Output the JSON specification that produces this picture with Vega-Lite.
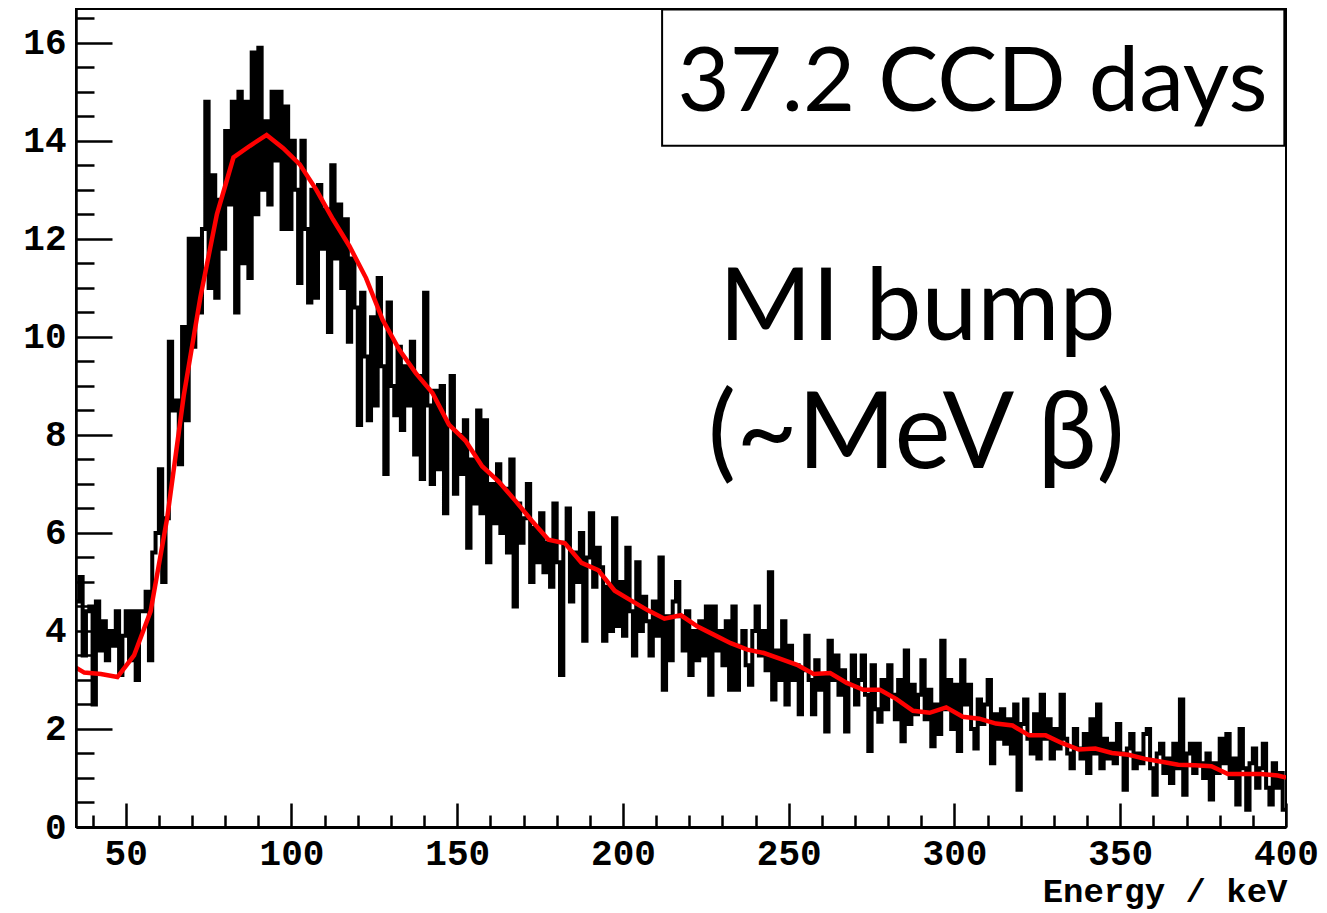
{
  "$schema": "https://vega.github.io/schema/vega-lite/v6.json",
  "width": 1210,
  "height": 818,
  "autosize": {"type": "none"},
  "padding": {"left": 76, "top": 9, "right": 41, "bottom": 86},
  "background": "white",
  "config": {
    "view": {"stroke": "black", "strokeWidth": 2},
    "axis": {"grid": false}
  },
  "datasets": {
    "hist": [
      {"E":35,"c":4.6},{"E":36,"c":5.1},{"E":37,"c":3.5},{"E":38,"c":4.4},{"E":39,"c":4.5},
      {"E":40,"c":2.5},{"E":41,"c":4.6},{"E":42,"c":3.6},{"E":43,"c":4.2},{"E":44,"c":3.4},
      {"E":45,"c":4.0},{"E":46,"c":3.7},{"E":47,"c":4.4},{"E":48,"c":3.1},{"E":49,"c":3.9},
      {"E":50,"c":4.4},{"E":51,"c":3.4},{"E":52,"c":4.4},{"E":53,"c":3.0},{"E":54,"c":4.4},
      {"E":55,"c":4.4},{"E":56,"c":4.8},{"E":57,"c":3.4},{"E":58,"c":5.6},{"E":59,"c":6.0},
      {"E":60,"c":7.3},{"E":61,"c":5.0},{"E":62,"c":6.3},{"E":63,"c":9.9},{"E":64,"c":8.5},
      {"E":65,"c":8.7},{"E":66,"c":7.4},{"E":67,"c":10.2},{"E":68,"c":8.3},{"E":69,"c":12.0},
      {"E":70,"c":9.8},{"E":71,"c":12.0},{"E":72,"c":10.5},{"E":73,"c":12.2},{"E":74,"c":14.8},
      {"E":75,"c":11.0},{"E":76,"c":13.3},{"E":77,"c":10.8},{"E":78,"c":12.8},{"E":79,"c":11.8},
      {"E":80,"c":14.2},{"E":81,"c":12.7},{"E":82,"c":14.8},{"E":83,"c":10.5},{"E":84,"c":15.0},
      {"E":85,"c":11.5},{"E":86,"c":14.8},{"E":87,"c":11.2},{"E":88,"c":15.8},{"E":89,"c":12.5},
      {"E":90,"c":15.9},{"E":91,"c":13.0},{"E":92,"c":14.4},{"E":93,"c":12.7},{"E":94,"c":15.0},
      {"E":95,"c":13.6},{"E":96,"c":15.0},{"E":97,"c":12.2},{"E":98,"c":14.7},{"E":99,"c":12.2},
      {"E":100,"c":14.0},{"E":101,"c":13.0},{"E":102,"c":11.1},{"E":103,"c":14.0},{"E":104,"c":12.2},
      {"E":105,"c":10.7},{"E":106,"c":13.0},{"E":107,"c":10.8},{"E":108,"c":13.1},{"E":109,"c":11.8},
      {"E":110,"c":12.6},{"E":111,"c":10.1},{"E":112,"c":13.5},{"E":113,"c":11.6},{"E":114,"c":12.7},
      {"E":115,"c":11.0},{"E":116,"c":12.4},{"E":117,"c":9.9},{"E":118,"c":11.6},{"E":119,"c":10.6},
      {"E":120,"c":8.2},{"E":121,"c":10.9},{"E":122,"c":9.6},{"E":123,"c":8.3},{"E":124,"c":10.4},
      {"E":125,"c":8.6},{"E":126,"c":11.2},{"E":127,"c":9.4},{"E":128,"c":7.2},{"E":129,"c":10.7},
      {"E":130,"c":9.0},{"E":131,"c":8.4},{"E":132,"c":9.8},{"E":133,"c":8.1},{"E":134,"c":9.4},
      {"E":135,"c":8.6},{"E":136,"c":9.9},{"E":137,"c":7.6},{"E":138,"c":9.2},{"E":139,"c":7.1},
      {"E":140,"c":10.9},{"E":141,"c":8.6},{"E":142,"c":7.0},{"E":143,"c":8.9},{"E":144,"c":7.3},
      {"E":145,"c":9.0},{"E":146,"c":6.4},{"E":147,"c":8.2},{"E":148,"c":9.2},{"E":149,"c":6.8},
      {"E":150,"c":8.0},{"E":151,"c":7.2},{"E":152,"c":8.3},{"E":153,"c":5.7},{"E":154,"c":7.5},
      {"E":155,"c":6.6},{"E":156,"c":8.5},{"E":157,"c":6.4},{"E":158,"c":8.3},{"E":159,"c":5.4},
      {"E":160,"c":7.0},{"E":161,"c":6.2},{"E":162,"c":7.4},{"E":163,"c":6.0},{"E":164,"c":6.9},
      {"E":165,"c":5.6},{"E":166,"c":7.5},{"E":167,"c":4.5},{"E":168,"c":6.6},{"E":169,"c":5.8},
      {"E":170,"c":6.3},{"E":171,"c":7.0},{"E":172,"c":5.0},{"E":173,"c":6.1},{"E":174,"c":5.4},
      {"E":175,"c":6.4},{"E":176,"c":5.2},{"E":177,"c":5.8},{"E":178,"c":4.9},{"E":179,"c":6.6},
      {"E":180,"c":5.4},{"E":181,"c":3.1},{"E":182,"c":5.8},{"E":183,"c":6.5},{"E":184,"c":4.6},
      {"E":185,"c":5.6},{"E":186,"c":5.0},{"E":187,"c":6.0},{"E":188,"c":3.8},{"E":189,"c":5.5},
      {"E":190,"c":6.4},{"E":191,"c":4.9},{"E":192,"c":5.7},{"E":193,"c":5.3},{"E":194,"c":3.8},
      {"E":195,"c":4.9},{"E":196,"c":4.0},{"E":197,"c":6.3},{"E":198,"c":4.1},{"E":199,"c":5.0},
      {"E":200,"c":3.9},{"E":201,"c":5.7},{"E":202,"c":4.4},{"E":203,"c":3.5},{"E":204,"c":5.4},
      {"E":205,"c":4.0},{"E":206,"c":4.7},{"E":207,"c":4.2},{"E":208,"c":3.5},{"E":209,"c":4.6},
      {"E":210,"c":3.9},{"E":211,"c":5.5},{"E":212,"c":2.8},{"E":213,"c":4.3},{"E":214,"c":3.4},
      {"E":215,"c":4.6},{"E":216,"c":5.0},{"E":217,"c":4.3},{"E":218,"c":3.6},{"E":219,"c":4.4},
      {"E":220,"c":3.1},{"E":221,"c":4.0},{"E":222,"c":3.4},{"E":223,"c":4.2},{"E":224,"c":3.5},
      {"E":225,"c":4.5},{"E":226,"c":2.7},{"E":227,"c":4.5},{"E":228,"c":3.6},{"E":229,"c":4.0},
      {"E":230,"c":3.3},{"E":231,"c":4.2},{"E":232,"c":2.8},{"E":233,"c":4.5},{"E":234,"c":2.8},
      {"E":235,"c":3.7},{"E":236,"c":4.0},{"E":237,"c":3.3},{"E":238,"c":2.9},{"E":239,"c":4.0},
      {"E":240,"c":4.5},{"E":241,"c":3.5},{"E":242,"c":4.0},{"E":243,"c":3.2},{"E":244,"c":5.2},
      {"E":245,"c":2.6},{"E":246,"c":3.6},{"E":247,"c":3.0},{"E":248,"c":4.2},{"E":249,"c":2.5},
      {"E":250,"c":3.7},{"E":251,"c":3.0},{"E":252,"c":3.3},{"E":253,"c":2.3},{"E":254,"c":3.2},
      {"E":255,"c":3.9},{"E":256,"c":3.0},{"E":257,"c":2.3},{"E":258,"c":3.4},{"E":259,"c":2.8},
      {"E":260,"c":3.1},{"E":261,"c":1.95},{"E":262,"c":3.8},{"E":263,"c":3.0},{"E":264,"c":3.5},
      {"E":265,"c":2.7},{"E":266,"c":3.2},{"E":267,"c":1.95},{"E":268,"c":2.9},{"E":269,"c":3.5},
      {"E":270,"c":2.5},{"E":271,"c":3.0},{"E":272,"c":3.5},{"E":273,"c":2.7},{"E":274,"c":1.55},
      {"E":275,"c":3.3},{"E":276,"c":2.4},{"E":277,"c":2.15},{"E":278,"c":3.0},{"E":279,"c":2.4},
      {"E":280,"c":3.3},{"E":281,"c":2.7},{"E":282,"c":2.2},{"E":283,"c":3.0},{"E":284,"c":1.75},
      {"E":285,"c":3.6},{"E":286,"c":2.1},{"E":287,"c":2.9},{"E":288,"c":2.3},{"E":289,"c":2.7},
      {"E":290,"c":3.4},{"E":291,"c":2.2},{"E":292,"c":2.8},{"E":293,"c":1.65},{"E":294,"c":2.5},
      {"E":295,"c":1.9},{"E":296,"c":3.8},{"E":297,"c":2.4},{"E":298,"c":3.0},{"E":299,"c":2.0},
      {"E":300,"c":2.9},{"E":301,"c":1.55},{"E":302,"c":3.4},{"E":303,"c":2.5},{"E":304,"c":2.9},
      {"E":305,"c":2.0},{"E":306,"c":1.6},{"E":307,"c":2.6},{"E":308,"c":2.1},{"E":309,"c":2.5},
      {"E":310,"c":3.0},{"E":311,"c":1.3},{"E":312,"c":2.3},{"E":313,"c":1.8},{"E":314,"c":2.4},
      {"E":315,"c":1.7},{"E":316,"c":2.2},{"E":317,"c":1.5},{"E":318,"c":2.5},{"E":319,"c":0.76},
      {"E":320,"c":2.1},{"E":321,"c":2.6},{"E":322,"c":1.8},{"E":323,"c":1.5},{"E":324,"c":2.3},
      {"E":325,"c":1.4},{"E":326,"c":2.7},{"E":327,"c":1.8},{"E":328,"c":2.2},{"E":329,"c":1.4},
      {"E":330,"c":2.0},{"E":331,"c":1.6},{"E":332,"c":2.7},{"E":333,"c":1.8},{"E":334,"c":1.5},
      {"E":335,"c":1.2},{"E":336,"c":2.0},{"E":337,"c":1.6},{"E":338,"c":1.4},{"E":339,"c":1.9},
      {"E":340,"c":1.1},{"E":341,"c":2.2},{"E":342,"c":1.5},{"E":343,"c":2.5},{"E":344,"c":1.2},
      {"E":345,"c":1.8},{"E":346,"c":1.4},{"E":347,"c":1.7},{"E":348,"c":1.3},{"E":349,"c":2.1},
      {"E":350,"c":1.5},{"E":351,"c":0.76},{"E":352,"c":1.6},{"E":353,"c":1.9},{"E":354,"c":1.2},
      {"E":355,"c":1.5},{"E":356,"c":1.3},{"E":357,"c":1.9},{"E":358,"c":2.0},{"E":359,"c":1.2},
      {"E":360,"c":0.66},{"E":361,"c":1.5},{"E":362,"c":1.7},{"E":363,"c":1.1},{"E":364,"c":1.4},
      {"E":365,"c":0.9},{"E":366,"c":1.7},{"E":367,"c":1.2},{"E":368,"c":2.6},{"E":369,"c":0.66},
      {"E":370,"c":1.5},{"E":371,"c":1.7},{"E":372,"c":1.1},{"E":373,"c":1.7},{"E":374,"c":1.3},
      {"E":375,"c":1.0},{"E":376,"c":1.5},{"E":377,"c":0.56},{"E":378,"c":1.3},{"E":379,"c":1.1},
      {"E":380,"c":1.8},{"E":381,"c":1.3},{"E":382,"c":1.9},{"E":383,"c":1.0},{"E":384,"c":1.4},
      {"E":385,"c":0.46},{"E":386,"c":2.0},{"E":387,"c":1.2},{"E":388,"c":0.35},{"E":389,"c":1.3},
      {"E":390,"c":1.6},{"E":391,"c":0.8},{"E":392,"c":1.2},{"E":393,"c":1.7},{"E":394,"c":0.8},
      {"E":395,"c":0.46},{"E":396,"c":1.3},{"E":397,"c":0.8},{"E":398,"c":1.1},{"E":399,"c":0.35},
      {"E":400,"c":0.35}
    ],
    "fit": [
      {"E":35,"c":3.25},{"E":37.5,"c":3.15},{"E":42.5,"c":3.12},{"E":47.5,"c":3.06},{"E":52.5,"c":3.5},
      {"E":57.5,"c":4.4},{"E":62.5,"c":6.3},{"E":67.5,"c":8.8},{"E":72.5,"c":10.8},{"E":77.5,"c":12.5},
      {"E":82.5,"c":13.66},{"E":87.5,"c":13.9},{"E":92.5,"c":14.12},{"E":97.5,"c":13.85},{"E":102.5,"c":13.52},
      {"E":107.5,"c":13.0},{"E":112.5,"c":12.4},{"E":117.5,"c":11.85},{"E":122.5,"c":11.2},{"E":127.5,"c":10.35},
      {"E":132.5,"c":9.74},{"E":137.5,"c":9.26},{"E":142.5,"c":8.86},{"E":147.5,"c":8.21},{"E":152.5,"c":7.88},
      {"E":157.5,"c":7.36},{"E":162.5,"c":7.05},{"E":167.5,"c":6.66},{"E":172.5,"c":6.25},{"E":177.5,"c":5.86},
      {"E":182.5,"c":5.79},{"E":187.5,"c":5.39},{"E":192.5,"c":5.24},{"E":197.5,"c":4.82},{"E":202.5,"c":4.62},
      {"E":207.5,"c":4.42},{"E":212.5,"c":4.25},{"E":217.5,"c":4.32},{"E":222.5,"c":4.09},{"E":227.5,"c":3.92},
      {"E":232.5,"c":3.75},{"E":237.5,"c":3.62},{"E":242.5,"c":3.55},{"E":247.5,"c":3.43},{"E":252.5,"c":3.31},
      {"E":257.5,"c":3.12},{"E":262.5,"c":3.14},{"E":267.5,"c":2.94},{"E":272.5,"c":2.8},{"E":277.5,"c":2.8},
      {"E":282.5,"c":2.61},{"E":287.5,"c":2.37},{"E":292.5,"c":2.33},{"E":297.5,"c":2.44},{"E":302.5,"c":2.25},
      {"E":307.5,"c":2.21},{"E":312.5,"c":2.11},{"E":317.5,"c":2.07},{"E":322.5,"c":1.87},{"E":327.5,"c":1.87},
      {"E":332.5,"c":1.71},{"E":337.5,"c":1.58},{"E":342.5,"c":1.6},{"E":347.5,"c":1.51},{"E":352.5,"c":1.475},
      {"E":357.5,"c":1.39},{"E":362.5,"c":1.33},{"E":367.5,"c":1.27},{"E":372.5,"c":1.26},{"E":377.5,"c":1.24},
      {"E":382.5,"c":1.08},{"E":387.5,"c":1.08},{"E":392.5,"c":1.08},{"E":397.5,"c":1.05},{"E":400,"c":1.01}
    ]
  },
  "layer": [
    {
      "data": {"name": "hist"},
      "mark": {"type": "line", "interpolate": "step-after", "color": "black", "strokeWidth": 4, "clip": true},
      "encoding": {
        "x": {
          "field": "E", "type": "quantitative",
          "scale": {"domain": [35, 400], "nice": false, "zero": false},
          "axis": {
            "orient": "bottom", "values": [50, 100, 150, 200, 250, 300, 350, 400], "format": "d",
            "tickSize": -24, "tickWidth": 2.5, "tickColor": "black",
            "domain": true, "domainColor": "black", "domainWidth": 3,
            "labelFont": "Liberation Mono", "labelFontWeight": "bold", "labelFontSize": 36, "labelColor": "black",
            "labelPadding": 33, "labelFlush": false, "labelOverlap": false, "labelBaseline": "top",
            "title": "Energy / keV", "titleFont": "Liberation Mono", "titleFontWeight": "bold", "titleFontSize": 34,
            "titleColor": "black", "titleAnchor": "end", "titleAlign": "right", "titleBaseline": "alphabetic",
            "titleX": 1211, "titleY": 74, "zindex": 1
          }
        },
        "y": {
          "field": "c", "type": "quantitative",
          "scale": {"domain": [0, 16.69], "nice": false, "zero": true},
          "axis": {
            "orient": "left", "values": [0, 2, 4, 6, 8, 10, 12, 14, 16], "format": "d",
            "tickSize": -36, "tickWidth": 2.5, "tickColor": "black",
            "domain": true, "domainColor": "black", "domainWidth": 2.5,
            "labelFont": "Liberation Mono", "labelFontWeight": "bold", "labelFontSize": 36, "labelColor": "black",
            "labelPadding": 46, "labelFlush": false, "labelOverlap": false,
            "title": null, "zindex": 1
          }
        }
      }
    },
    {
      "data": {"name": "fit"},
      "mark": {"type": "line", "color": "#ff0000", "strokeWidth": 4.5, "clip": true},
      "encoding": {
        "x": {
          "field": "E", "type": "quantitative",
          "axis": {
            "orient": "bottom",
            "values": [40, 60, 70, 80, 90, 110, 120, 130, 140, 160, 170, 180, 190, 210, 220, 230, 240, 260, 270, 280, 290, 310, 320, 330, 340, 360, 370, 380, 390],
            "tickSize": -12, "tickWidth": 2.5, "tickColor": "black",
            "labels": false, "domain": false, "title": null, "zindex": 1
          }
        },
        "y": {
          "field": "c", "type": "quantitative",
          "axis": {
            "orient": "left",
            "values": [0.5, 1, 1.5, 2.5, 3, 3.5, 4.5, 5, 5.5, 6.5, 7, 7.5, 8.5, 9, 9.5, 10.5, 11, 11.5, 12.5, 13, 13.5, 14.5, 15, 15.5, 16.5],
            "tickSize": -18, "tickWidth": 2.5, "tickColor": "black",
            "labels": false, "domain": false, "title": null, "zindex": 1
          }
        }
      }
    },
    {
      "data": {"values": [{}]},
      "mark": {"type": "rect", "fill": "white", "stroke": "black", "strokeWidth": 2},
      "encoding": {
        "x": {"datum": 211.8, "type": "quantitative", "axis": null},
        "x2": {"datum": 399.5},
        "y": {"datum": 16.68, "type": "quantitative", "axis": null},
        "y2": {"datum": 13.9}
      }
    },
    {
      "data": {"values": [{}]},
      "mark": {"type": "text", "font": "Lato", "fontSize": 90, "align": "center", "baseline": "alphabetic", "color": "black"},
      "encoding": {
        "x": {"datum": 305.4, "type": "quantitative", "axis": null},
        "y": {"datum": 14.6, "type": "quantitative", "axis": null},
        "text": {"value": "37.2 CCD days"}
      }
    },
    {
      "data": {"values": [{}]},
      "mark": {"type": "text", "font": "Lato", "fontSize": 100, "align": "center", "baseline": "alphabetic", "color": "black"},
      "encoding": {
        "x": {"datum": 288.8, "type": "quantitative", "axis": null},
        "y": {"datum": 9.94, "type": "quantitative", "axis": null},
        "text": {"value": "MI bump"}
      }
    },
    {
      "data": {"values": [{}]},
      "mark": {"type": "text", "font": "Lato", "fontSize": 106, "align": "center", "baseline": "alphabetic", "color": "black"},
      "encoding": {
        "x": {"datum": 288.5, "type": "quantitative", "axis": null},
        "y": {"datum": 7.33, "type": "quantitative", "axis": null},
        "text": {"value": "(~MeV β)"}
      }
    }
  ],
  "resolve": {"axis": {"x": "independent", "y": "independent"}}
}
